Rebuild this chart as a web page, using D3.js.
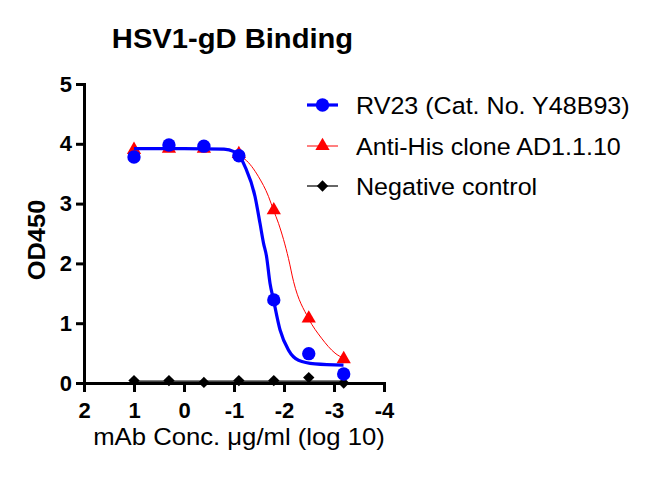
<!DOCTYPE html>
<html>
<head>
<meta charset="utf-8">
<script src="https://cdn.jsdelivr.net/npm/d3@7"></script>
<style>
  html, body { margin: 0; padding: 0; background: #fff; }
  svg { display: block; }
  text { font-family: "Liberation Sans", Arial, Helvetica, sans-serif; fill: #000; }
</style>
</head>
<body>
<svg id="chart" width="652" height="479"></svg>
<script>
// ---- data ----
const title = "HSV1-gD Binding";
const xLabel = "mAb Conc. \u03BCg/ml (log 10)";
const yLabel = "OD450";
const xTicks = [2, 1, 0, -1, -2, -3, -4];
const yTicks = [0, 1, 2, 3, 4, 5];
const seriesNames = ["RV23 (Cat. No. Y48B93)", "Anti-His clone AD1.1.10", "Negative control"];
const seriesColors = ["#0000ff", "#ff0000", "#000000"];

const logConc = [1, 0.301, -0.398, -1.097, -1.796, -2.495, -3.194];
const rv23    = [3.78, 3.98, 3.96, 3.80, 1.39, 0.49, 0.15];
const antiHis = [3.90, 3.92, 3.92, 3.83, 2.89, 1.08, 0.40];
const negCtrl = [0.04, 0.04, 0.01, 0.04, 0.04, 0.09, 0.00];

// fitted curves
const rv23FitX = [1, 0, -0.8, -1.0, -1.1, -1.22, -1.42, -1.52, -1.59, -1.65, -1.72, -1.79, -1.92, -2.09, -2.29, -2.62, -3.19];
const rv23FitY = [3.92, 3.92, 3.91, 3.87, 3.81, 3.62, 3.12, 2.67, 2.34, 2.12, 1.67, 1.39, 0.89, 0.55, 0.38, 0.32, 0.30];
const antiFitX = [1, 0, -0.8, -1.0, -1.1, -1.22, -1.49, -1.69, -1.79, -1.89, -2.09, -2.19, -2.49, -2.75, -3.02, -3.19, -3.25];
const antiFitY = [3.92, 3.92, 3.90, 3.86, 3.80, 3.74, 3.45, 3.12, 2.89, 2.67, 2.08, 1.70, 1.08, 0.75, 0.50, 0.41, 0.38];
const negFitX = [1, -3.194];
const negFitY = [0.03, 0.03];

// ---- drawing ----
const svg = d3.select("#chart");
const x = d3.scaleLinear().domain([2, -4]).range([84, 384]);
const y = d3.scaleLinear().domain([0, 5]).range([383, 84]);

// title
svg.append("text")
  .attr("transform", "translate(232.5,48) scale(1.08,1)")
  .attr("text-anchor", "middle")
  .attr("font-size", 27).attr("font-weight", "bold")
  .text(title);

// axes
const xAxis = svg.append("g")
  .attr("transform", `translate(0,${y(0)})`)
  .call(d3.axisBottom(x).tickValues(xTicks).tickFormat(d => String(d)).tickSize(9).tickSizeOuter(0).tickPadding(10));
const yAxis = svg.append("g")
  .attr("transform", `translate(${x(2)},0)`)
  .call(d3.axisLeft(y).tickValues(yTicks).tickFormat(d => String(d)).tickSize(8).tickSizeOuter(0).tickPadding(4));

[xAxis, yAxis].forEach(g => {
  g.select(".domain").attr("stroke", "#000").attr("stroke-width", 3).attr("stroke-linecap", "square");
  g.selectAll(".tick line").attr("stroke", "#000").attr("stroke-width", 3);
  g.selectAll(".tick text")
    .attr("font-family", '"Liberation Sans", Arial, sans-serif')
    .attr("font-size", 22).attr("font-weight", "bold").attr("fill", "#000");
});

// axis labels
svg.append("text")
  .attr("transform", "translate(239,445) scale(1.07,1)")
  .attr("text-anchor", "middle")
  .attr("font-size", 24)
  .text(xLabel);
svg.append("text")
  .attr("transform", "translate(45,240) rotate(-90) scale(1.06,1)")
  .attr("text-anchor", "middle")
  .attr("font-size", 24).attr("font-weight", "bold")
  .text(yLabel);

const line = d3.line().x(d => x(d[0])).y(d => y(d[1])).curve(d3.curveMonotoneX);
const zip = (a, b) => a.map((v, i) => [v, b[i]]);

const sym = {
  circle: d3.symbol().type(d3.symbolCircle).size(140),
  triangle: d3.symbol().type(d3.symbolTriangle).size(88),
  diamond: d3.symbol().type(d3.symbolSquare).size(64)
};

// negative control
svg.append("path").attr("d", line(zip(negFitX, negFitY)))
  .attr("fill", "none").attr("stroke", seriesColors[2]).attr("stroke-width", 1.2);
svg.append("g").selectAll("path").data(zip(logConc, negCtrl)).join("path")
  .attr("d", sym.diamond())
  .attr("transform", d => `translate(${x(d[0])},${y(d[1])}) rotate(45)`)
  .attr("fill", seriesColors[2]);

// anti-His
svg.append("path").attr("d", line(zip(antiFitX, antiFitY)))
  .attr("fill", "none").attr("stroke", seriesColors[1]).attr("stroke-width", 1);
svg.append("g").selectAll("path").data(zip(logConc, antiHis)).join("path")
  .attr("d", sym.triangle())
  .attr("transform", d => `translate(${x(d[0])},${y(d[1])})`)
  .attr("fill", seriesColors[1]);

// RV23
svg.append("path").attr("d", line(zip(rv23FitX, rv23FitY)))
  .attr("fill", "none").attr("stroke", seriesColors[0]).attr("stroke-width", 3.2);
svg.append("g").selectAll("path").data(zip(logConc, rv23)).join("path")
  .attr("d", sym.circle())
  .attr("transform", d => `translate(${x(d[0])},${y(d[1])})`)
  .attr("fill", seriesColors[0]);

// legend
const legendY = [105, 146, 186];
const legendSym = [sym.circle, sym.triangle, sym.diamond];
const legendStroke = [3.2, 1, 1.2];
const lg = svg.append("g");
seriesNames.forEach((name, i) => {
  const g = lg.append("g").attr("transform", `translate(0,${legendY[i]})`);
  g.append("line").attr("x1", 307).attr("x2", 338).attr("y1", 0).attr("y2", 0)
    .attr("stroke", seriesColors[i]).attr("stroke-width", legendStroke[i]);
  g.append("path").attr("d", legendSym[i]())
    .attr("transform", `translate(322.5,0)${i === 2 ? " rotate(45)" : ""}`)
    .attr("fill", seriesColors[i]);
  g.append("text").attr("transform", "translate(356,9) scale(1.067,1)")
    .attr("font-size", 23.5).text(name);
});
</script>
</body>
</html>
